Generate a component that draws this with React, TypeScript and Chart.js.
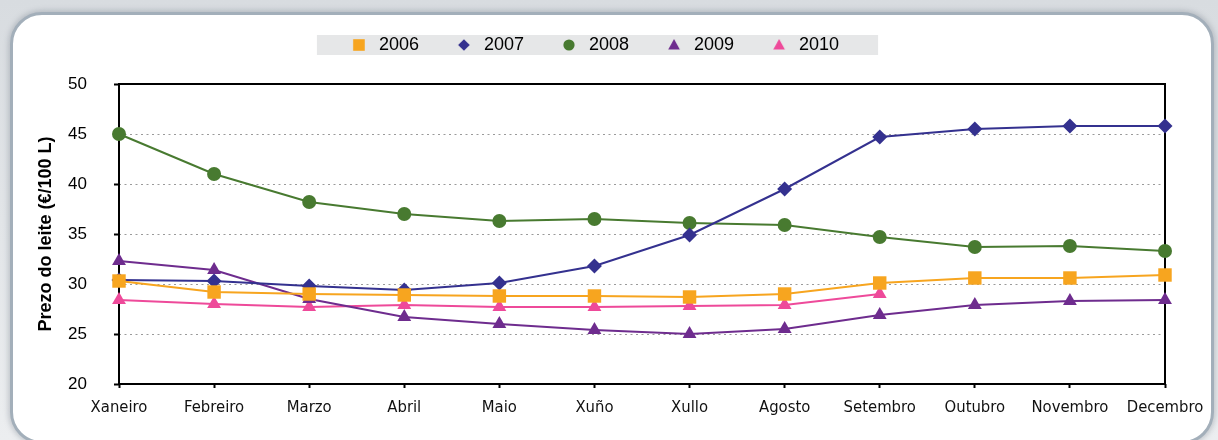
import React, { useEffect, useRef } from 'react';
import { Chart, registerables } from 'chart.js';

Chart.register(...registerables);

// ---- data ----
const months = ['Xaneiro', 'Febreiro', 'Marzo', 'Abril', 'Maio', 'Xuño', 'Xullo', 'Agosto', 'Setembro', 'Outubro', 'Novembro', 'Decembro'];
const years = ['2006', '2007', '2008', '2009', '2010'];
const v2006 = [30.3, 29.2, 29.0, 28.9, 28.8, 28.8, 28.7, 29.0, 30.1, 30.6, 30.6, 30.9];
const v2007 = [30.4, 30.3, 29.8, 29.4, 30.1, 31.8, 34.9, 39.5, 44.7, 45.5, 45.8, 45.8];
const v2008 = [45.0, 41.0, 38.2, 37.0, 36.3, 36.5, 36.1, 35.9, 34.7, 33.7, 33.8, 33.3];
const v2009 = [32.3, 31.4, 28.5, 26.7, 26.0, 25.4, 25.0, 25.5, 26.9, 27.9, 28.3, 28.4];
const v2010 = [28.4, 28.0, 27.7, 27.9, 27.7, 27.7, 27.8, 27.9, 29.0, null, null, null];
const yMin = 20;
const yMax = 50;
const yStep = 5;
const yTitle = 'Prezo do leite (€/100 L)';

// ---- styles ----
const seriesData = [v2006, v2007, v2008, v2009, v2010];
const colors = ['#F7A51F', '#34318F', '#487A30', '#6E2C8E', '#EE4A9A'];
const shapes = ['rect', 'rectRot', 'circle', 'triangle', 'triangle'];
const radii = [9.5, 7.5, 7, 8, 8];

const SANS = "'Liberation Sans', Arial, Helvetica, sans-serif";
const NARROW = "'Liberation Sans Narrow', 'Arial Narrow', 'DejaVu Sans Condensed', 'Liberation Sans', sans-serif";

function makeIcon(shape: string, color: string): HTMLCanvasElement {
  const c = document.createElement('canvas');
  c.width = 20;
  c.height = 20;
  const g = c.getContext('2d')!;
  g.fillStyle = color;
  g.beginPath();
  const cx = 10, cy = 10;
  if (shape === 'rect') {
    g.rect(cx - 5.8, cy - 5.8, 11.6, 11.6);
  } else if (shape === 'rectRot') {
    g.moveTo(cx, cy - 5.8);
    g.lineTo(cx + 5.8, cy);
    g.lineTo(cx, cy + 5.8);
    g.lineTo(cx - 5.8, cy);
    g.closePath();
  } else if (shape === 'circle') {
    g.arc(cx, cy, 5.6, 0, Math.PI * 2);
  } else {
    g.moveTo(cx, cy - 6);
    g.lineTo(cx + 5.8, cy + 4.5);
    g.lineTo(cx - 5.8, cy + 4.5);
    g.closePath();
  }
  g.fill();
  return c;
}

const framePlugin = {
  id: 'plotFrame',
  beforeDatasetsDraw(chart: any) {
    const { ctx, chartArea: a } = chart;
    ctx.save();
    ctx.strokeStyle = '#000';
    ctx.lineWidth = 2;
    ctx.strokeRect(a.left, a.top, a.right - a.left, a.bottom - a.top);
    ctx.restore();
  },
};

const legendBgPlugin = {
  id: 'legendBg',
  beforeDraw(chart: any) {
    const lg = chart.legend;
    if (!lg || !lg.legendHitBoxes || !lg.legendHitBoxes.length) return;
    const hb = lg.legendHitBoxes;
    const first = hb[0];
    const last = hb[hb.length - 1];
    const x0 = first.left - 31;
    const x1 = last.left + last.width + 39;
    const cy = first.top + first.height / 2;
    const ctx = chart.ctx;
    ctx.save();
    ctx.fillStyle = '#E6E7E8';
    ctx.fillRect(x0, cy - 10, x1 - x0, 20);
    ctx.restore();
  },
};

export default function App() {
  const ref = useRef<HTMLCanvasElement | null>(null);

  useEffect(() => {
    const canvas = ref.current;
    if (!canvas) return;
    const icons = years.map((_, i) => makeIcon(shapes[i], colors[i]));
    const chart = new Chart(canvas, {
      type: 'line',
      data: {
        labels: months,
        datasets: years.map((y, i) => ({
          label: y,
          data: seriesData[i],
          borderColor: colors[i],
          backgroundColor: colors[i],
          pointBackgroundColor: colors[i],
          pointBorderColor: colors[i],
          pointBorderWidth: 0,
          pointStyle: shapes[i] as any,
          pointRadius: radii[i],
          pointHoverRadius: radii[i],
          borderWidth: 2,
          tension: 0,
          fill: false,
          spanGaps: false,
          clip: false as any,
        })),
      },
      options: {
        responsive: false,
        animation: false,
        events: [],
        layout: { padding: { top: 2, left: 22, right: 53, bottom: 12.2 } },
        plugins: {
          legend: {
            position: 'top',
            align: 'center',
            labels: {
              font: { family: SANS, size: 18 },
              color: '#000',
              usePointStyle: true,
              pointStyleWidth: 22,
              padding: 34,
              generateLabels: (ch: any) => {
                const items = (Chart.defaults.plugins.legend.labels as any).generateLabels(ch);
                return items.map((it: any, i: number) => ({ ...it, pointStyle: icons[i], lineWidth: 0 }));
              },
            },
          },
          subtitle: {
            display: true,
            text: '',
            position: 'top',
            weight: 500,
            font: { size: 10, lineHeight: 1 },
            padding: { top: 0, bottom: 10 },
          } as any,
          tooltip: { enabled: false },
        },
        scales: {
          x: {
            type: 'category',
            offset: false,
            grid: { color: 'rgba(0,0,0,0)', drawTicks: true, tickLength: 4, tickColor: '#000', tickWidth: 2 },
            border: { display: false },
            ticks: {
              font: { family: NARROW, size: 16.5 },
              color: '#111',
              padding: 10,
              autoSkip: false,
              maxRotation: 0,
              minRotation: 0,
            },
          },
          y: {
            type: 'linear',
            min: yMin,
            max: yMax,
            ticks: { stepSize: yStep, font: { family: SANS, size: 17 }, color: '#000', padding: 27 },
            grid: {
              color: (c: any) => (c.tick && (c.tick.value === yMin || c.tick.value === yMax) ? 'rgba(0,0,0,0)' : '#9a9a9a'),
              lineWidth: 1,
              tickLength: 5,
              tickColor: '#000',
              tickWidth: 2,
            },
            border: { display: false, dash: [2, 3.5] },
            title: {
              display: true,
              text: yTitle,
              font: { family: SANS, size: 18, weight: 'bold' },
              color: '#000',
              padding: { top: 13.2, bottom: 0 },
            },
            afterFit: (s: any) => {
              s.width = 97;
            },
          },
        },
      },
      plugins: [legendBgPlugin, framePlugin],
    } as any);
    return () => chart.destroy();
  }, []);

  return (
    <div
      style={{
        position: 'fixed',
        left: 0,
        top: 0,
        width: 1218,
        height: 440,
        overflow: 'hidden',
        background: 'linear-gradient(#d8dce0, #eceef0)',
      }}
    >
      <div
        style={{
          position: 'absolute',
          left: 10,
          top: 12,
          width: 1204,
          height: 432,
          boxSizing: 'border-box',
          border: '3px solid #a3afba',
          borderRadius: 32,
          background: '#fff',
          boxShadow: '0 0 5px 2px rgba(120,130,140,0.35)',
        }}
      />
      <canvas ref={ref} width={1218} height={440} style={{ position: 'absolute', left: 0, top: 0, display: 'block' }} />
    </div>
  );
}
